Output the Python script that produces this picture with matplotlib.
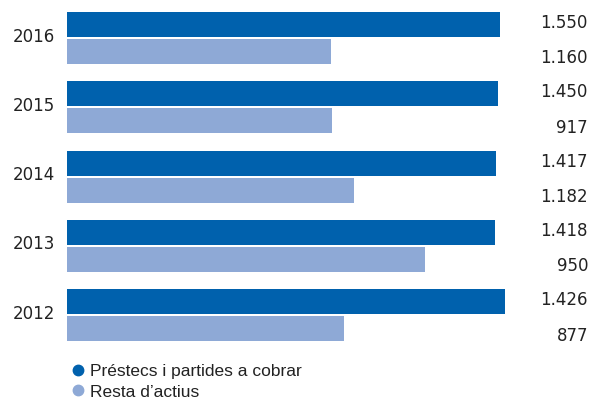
import matplotlib
matplotlib.use("Agg")
import matplotlib.pyplot as plt
from matplotlib.lines import Line2D
import numpy as np

# dades
anys = ["2016", "2015", "2014", "2013", "2012"]
prestecs = ["1.550", "1.450", "1.417", "1.418", "1.426"]
resta = ["1.160", "917", "1.182", "950", "877"]
# longitud de les barres tal com es veuen a la gràfica original
llarg_prestecs = [433, 431, 429, 428, 438]
llarg_resta = [264, 265, 287, 358, 277]

color_fosc = "#0061AD"
color_clar = "#8EA9D6"
color_text = "#222222"

plt.rcParams['font.family'] = ['DejaVu Sans']

fig = plt.figure(figsize=(5.94, 4.0), dpi=100)
ax = fig.add_axes([67 / 594, 50 / 400, 527 / 594, 350 / 400])

y = np.arange(len(anys))
alt = 0.36
desp = 0.195

ax.barh(y - desp, llarg_prestecs, height=alt, color=color_fosc)
ax.barh(y + desp, llarg_resta, height=alt, color=color_clar)

ax.set_xlim(0, 527)
ax.set_ylim(4.502, -0.548)

# etiquetes de valors a la dreta
for i in range(len(anys)):
    ax.text(521, y[i] - desp - 0.02, prestecs[i], ha="right", va="center",
            fontsize=12, color=color_text)
    ax.text(521, y[i] + desp + 0.1, resta[i], ha="right", va="center",
            fontsize=12, color=color_text)

ax.set_yticks(y - 0.05)
ax.set_yticklabels(anys, fontsize=12, color=color_text)
ax.tick_params(axis="y", length=0, pad=8.6)
ax.set_xticks([])
for s in ax.spines.values():
    s.set_visible(False)

handles = [
    Line2D([], [], marker="o", linestyle="", color=color_fosc, markersize=7.5),
    Line2D([], [], marker="o", linestyle="", color=color_clar, markersize=7.5),
]
fig.legend(handles, ["Préstecs i partides a cobrar", "Resta d’actius"],
           loc="upper left", bbox_to_anchor=(61 / 594, 1 - 355 / 400),
           frameon=False, handletextpad=0.15,
           labelspacing=0.32, borderpad=0, handlelength=1.0,
           labelcolor=color_text, prop={'family': 'Liberation Sans', 'size': 12.5})

fig.savefig("out.png", dpi=100)
